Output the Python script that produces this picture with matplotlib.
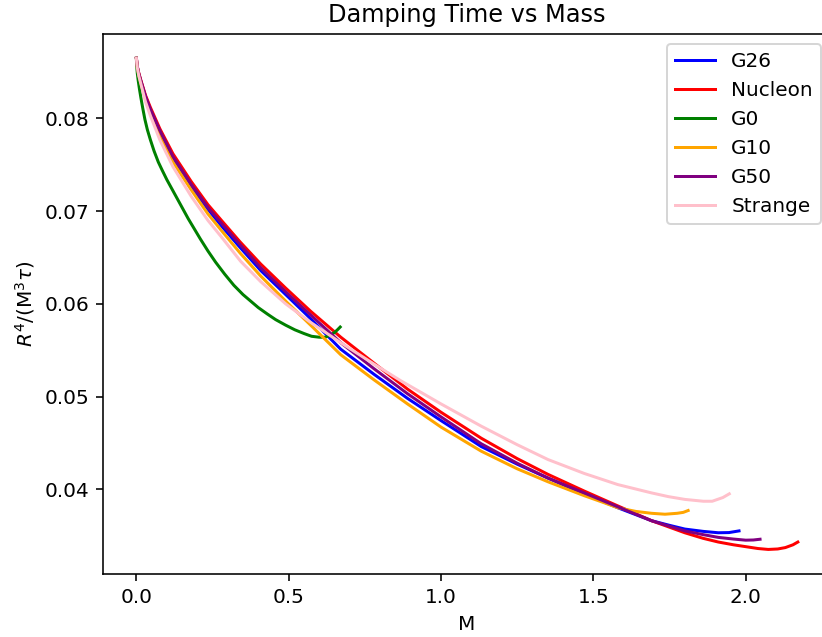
import matplotlib
matplotlib.use('Agg')
import matplotlib.pyplot as plt

# values
m_g26 = [0, 0.003, 0.008, 0.015, 0.03, 0.046, 0.077, 0.12, 0.18, 0.235, 0.282, 0.34, 0.408, 0.49, 0.572,
         0.671, 0.78, 0.89, 1.0, 1.132, 1.25, 1.351, 1.47, 1.58, 1.691, 1.75, 1.80, 1.86, 1.91, 1.945, 1.978]
y_g26 = [0.0865, 0.0856, 0.0848, 0.0840, 0.0823, 0.0809, 0.0785, 0.0757, 0.0727, 0.0702, 0.0683, 0.0661,
         0.0636, 0.0610, 0.0584, 0.0551, 0.0524, 0.0498, 0.0474, 0.0446, 0.0427, 0.0412, 0.0395, 0.0380,
         0.0366, 0.0361, 0.0357, 0.03545, 0.0353, 0.03532, 0.0355]

m_nuc = [0, 0.003, 0.008, 0.015, 0.03, 0.046, 0.077, 0.12, 0.18, 0.235, 0.282, 0.34, 0.408, 0.49, 0.572,
         0.671, 0.78, 0.89, 1.0, 1.132, 1.25, 1.351, 1.47, 1.58, 1.691, 1.80, 1.86, 1.91, 1.96, 2.0, 2.04,
         2.074, 2.105, 2.13, 2.155, 2.171]
y_nuc = [0.0865, 0.0856, 0.0849, 0.0841, 0.0825, 0.0812, 0.0789, 0.0762, 0.0732, 0.0707, 0.0689, 0.0667,
         0.0643, 0.0617, 0.0592, 0.0564, 0.0536, 0.0508, 0.0483, 0.0455, 0.0433, 0.0416, 0.0398, 0.0382,
         0.0366, 0.0353, 0.0347, 0.0343, 0.0340, 0.0338, 0.0336, 0.0335, 0.03355, 0.0337, 0.0340, 0.0343]

m_g0 = [0, 0.001, 0.003, 0.006, 0.010, 0.015, 0.021, 0.028, 0.036, 0.046, 0.058, 0.072, 0.085, 0.1,
        0.12, 0.145, 0.17, 0.19, 0.21, 0.235, 0.26, 0.29, 0.32, 0.35, 0.375, 0.40, 0.43, 0.457, 0.49,
        0.52, 0.55, 0.575, 0.60, 0.62, 0.635, 0.65, 0.66, 0.669]
y_g0 = [0.0865, 0.0857, 0.0849, 0.0841, 0.0832, 0.0822, 0.0811, 0.0799, 0.0788, 0.0777, 0.0765, 0.0753,
        0.0744, 0.0734, 0.0722, 0.0707, 0.0692, 0.0681, 0.0670, 0.0657, 0.0645, 0.0632, 0.0620, 0.0610,
        0.0603, 0.0596, 0.0589, 0.0583, 0.0577, 0.0572, 0.0568, 0.0565, 0.0564, 0.0564, 0.0566, 0.0569,
        0.0572, 0.0575]

m_g10 = [0, 0.003, 0.008, 0.015, 0.03, 0.046, 0.077, 0.12, 0.18, 0.235, 0.282, 0.34, 0.408, 0.49, 0.572,
         0.671, 0.78, 0.89, 1.0, 1.132, 1.25, 1.351, 1.47, 1.53, 1.58, 1.64, 1.691, 1.735, 1.775, 1.795, 1.811]
y_g10 = [0.0865, 0.0855, 0.0847, 0.0838, 0.0821, 0.0806, 0.0781, 0.0753, 0.0723, 0.0697, 0.0678, 0.0655,
         0.0630, 0.0603, 0.0577, 0.0545, 0.0518, 0.0492, 0.0467, 0.0441, 0.0422, 0.0408, 0.0393, 0.0386,
         0.0380, 0.0376, 0.0374, 0.0373, 0.0374, 0.0375, 0.0377]

m_g50 = [0, 0.003, 0.008, 0.015, 0.03, 0.046, 0.077, 0.12, 0.18, 0.235, 0.282, 0.34, 0.408, 0.49, 0.572,
         0.671, 0.78, 0.89, 1.0, 1.132, 1.25, 1.351, 1.47, 1.58, 1.691, 1.75, 1.80, 1.86, 1.91, 1.96, 2.0,
         2.025, 2.047]
y_g50 = [0.0865, 0.0856, 0.0848, 0.0840, 0.0824, 0.0810, 0.0787, 0.0759, 0.0729, 0.0704, 0.0686, 0.0664,
         0.0639, 0.0613, 0.0588, 0.0558, 0.0530, 0.0503, 0.0478, 0.0449, 0.0428, 0.0412, 0.0396, 0.0381,
         0.0366, 0.0360, 0.0355, 0.0351, 0.0348, 0.03462, 0.0345, 0.03452, 0.0346]

m_str = [0, 0.003, 0.008, 0.015, 0.03, 0.046, 0.077, 0.12, 0.15, 0.18, 0.235, 0.282, 0.342, 0.408, 0.49,
         0.572, 0.671, 0.78, 0.868, 1.0, 1.132, 1.25, 1.351, 1.47, 1.58, 1.691, 1.746, 1.80, 1.861, 1.89,
         1.925, 1.946]
y_str = [0.0865, 0.0855, 0.0846, 0.0837, 0.0818, 0.0803, 0.0777, 0.0748, 0.0732, 0.0716, 0.0690, 0.0671,
         0.0646, 0.0624, 0.0600, 0.0580, 0.0558, 0.0535, 0.0517, 0.0492, 0.0468, 0.0448, 0.0432, 0.0417,
         0.0405, 0.0396, 0.0392, 0.0389, 0.0387, 0.0387, 0.0391, 0.0395]

fig = plt.figure(figsize=(822 / 144, 637 / 144), dpi=144)
ax = fig.add_axes([103.3 / 822, 63 / 637, 727.6 / 822, 540.3 / 637])

ax.plot(m_g26, y_g26, color='blue', label='G26')
ax.plot(m_nuc, y_nuc, color='red', label='Nucleon')
ax.plot(m_g0, y_g0, color='green', label='G0')
ax.plot(m_g10, y_g10, color='orange', label='G10')
ax.plot(m_g50, y_g50, color='purple', label='G50')
ax.plot(m_str, y_str, color='pink', label='Strange')

ax.set_xlabel('M')
ax.set_ylabel(r'$R^4$/(M$^3\tau$)')
ax.set_title('Damping Time vs Mass')
ax.legend(loc='upper right')

fig.savefig('out.png', dpi=144)
